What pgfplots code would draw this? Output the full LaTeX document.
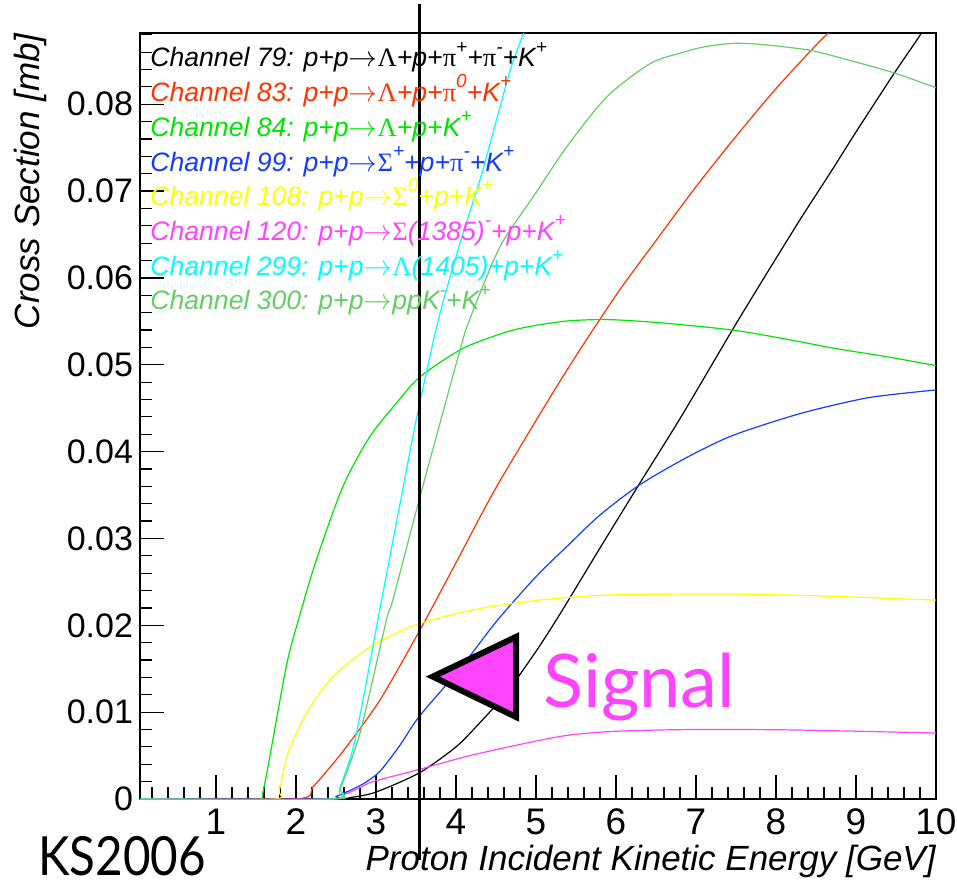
\documentclass[border=0pt]{standalone}
\usepackage{pgfplots}
\pgfplotsset{compat=1.18}
\usepackage{fontspec}
\setmainfont{Liberation Sans}
\newfontfamily\grk{Liberation Serif}
\newfontfamily\gill{Lato}
\newcommand\gk[1]{{\grk\upshape #1}}
\newcommand\sps[1]{\raisebox{0.52em}{\fontsize{9.5}{10}\selectfont #1}}
\definecolor{c79}{RGB}{0,0,0}
\definecolor{c83}{RGB}{255,51,0}
\definecolor{c84}{RGB}{0,230,0}
\definecolor{c99}{RGB}{20,60,255}
\definecolor{c108}{RGB}{255,255,0}
\definecolor{c120}{RGB}{255,68,255}
\definecolor{c299}{RGB}{0,255,255}
\definecolor{c300}{RGB}{102,204,102}
\begin{document}
\begin{tikzpicture}
\useasboundingbox (-70pt,-42.5pt) rectangle (408.5pt,399.5pt);
\begin{axis}[
  at={(0pt,0pt)}, anchor=south west,
  scale only axis, width=398pt, height=383pt,
  xmin=0.05, xmax=10, ymin=0, ymax=0.0882,
  axis line style={line width=1pt},
  xtick={1,2,...,10},
  minor xtick={0.2,0.4,...,9.9},
  ytick={0,0.01,0.02,0.03,0.04,0.05,0.06,0.07,0.08},
  minor ytick={0.002,0.004,...,0.0881},
  scaled y ticks=false,
  yticklabel style={/pgf/number format/fixed,/pgf/number format/precision=2},
  /pgf/number format/assume math mode=true,
  tick align=inside, xtick pos=bottom, ytick pos=left,
  major tick length=12pt, minor tick length=6pt,
  tick style={black, line width=0.6pt},
  yticklabel style={font=\fontsize{17}{20}\selectfont},
  xticklabel style={font=\fontsize{18.5}{22}\selectfont, yshift=-1.5pt},
  every axis plot/.append style={line width=0.6pt, no marks, smooth, tension=0.45},
]
\addplot[c79] coordinates {(0.05,0)(2.38,0)(2.7,0.0002)(3.0,0.0008)(3.54,0.0030)(4.0,0.0060)(4.3,0.0088)(4.63,0.0122)(5.0,0.0170)(5.3,0.0213)(5.8,0.0289)(6.3,0.0364)(6.8,0.0438)(7.454,0.0540)(7.85,0.0600)(8.3,0.0667)(8.685,0.0722)(9.0,0.0768)(9.48,0.0836)(9.79,0.0878)(10,0.0910)};
\addplot[c83] coordinates {(0.05,0)(2.0,0)(2.21,0.0014)(2.42,0.0036)(2.63,0.0060)(3.05,0.0114)(3.54,0.0193)(4.0,0.0272)(4.51,0.0360)(5.34,0.0487)(6.0,0.0580)(6.5,0.0643)(7.0,0.0705)(7.5,0.0763)(8.0,0.0818)(8.5,0.0868)(8.7,0.0886)(9.0,0.0910)(10,0.1000)};
\addplot[c84] coordinates {(0.05,0)(1.50,0)(1.59,0.0009)(1.877,0.0152)(2.03,0.0206)(2.253,0.0275)(2.587,0.0360)(2.921,0.0417)(3.256,0.0456)(3.548,0.0486)(4.09,0.0519)(4.717,0.0540)(5.343,0.0550)(5.9,0.0552)(6.6,0.0548)(7.454,0.0540)(8.1,0.0530)(8.727,0.0519)(9.4,0.0509)(10,0.0499)};
\addplot[c99] coordinates {(0.05,0)(2.38,0)(2.5,0.0003)(2.63,0.0008)(2.85,0.0018)(3.05,0.0032)(3.3,0.0062)(3.54,0.0095)(4.05,0.0150)(4.51,0.0205)(5.0,0.0256)(5.4,0.0292)(5.8,0.0327)(6.3,0.0362)(6.9,0.0394)(7.47,0.0419)(8.31,0.0444)(9.15,0.0462)(10,0.0471)};
\addplot[c108] coordinates {(0.05,0)(1.71,0)(1.79,0.0010)(1.90,0.0053)(2.13,0.0099)(2.42,0.0137)(2.7,0.0160)(2.96,0.0177)(3.25,0.0191)(3.54,0.0202)(4.22,0.0218)(5.05,0.0229)(5.93,0.0235)(7.39,0.0236)(8.5,0.0234)(10,0.0229)};
\addplot[c120] coordinates {(0.05,0)(2.40,0)(2.6,0.0005)(2.8,0.0013)(2.96,0.0020)(3.54,0.0034)(4.22,0.0051)(5.30,0.0072)(6.0,0.0078)(6.97,0.0080)(8.23,0.00795)(10,0.0076)};
\addplot[c299] coordinates {(0.05,0)(2.44,0)(2.55,0.0014)(2.71,0.0057)(2.85,0.0120)(2.96,0.0175)(3.07,0.0229)(3.3,0.0340)(3.51,0.0440)(3.78,0.0552)(4.05,0.0640)(4.30,0.0713)(4.5,0.0780)(4.68,0.0840)(4.80,0.0871)(4.9,0.0895)(5.0,0.0920)};
\addplot[c300] coordinates {(0.05,0)(2.46,0)(2.545,0.0010)(2.80,0.0076)(3.13,0.0206)(3.21,0.0229)(3.55,0.0348)(4.05,0.0517)(4.17,0.0552)(4.55,0.0636)(4.97,0.0694)(5.385,0.0751)(5.89,0.0809)(6.43,0.0847)(6.81,0.0859)(7.1,0.0866)(7.45,0.0870)(7.8,0.0869)(8.43,0.0862)(8.98,0.0849)(9.48,0.0836)(10,0.0819)};
\coordinate (vb) at (axis cs:3.54,-0.00703);
\coordinate (vt) at (axis cs:3.54,0.0915);
\coordinate (tA) at (axis cs:3.71,0.01409);
\coordinate (tB) at (axis cs:4.75,0.01866);
\coordinate (tC) at (axis cs:4.75,0.00945);
\coordinate (sg) at (axis cs:5.089,0.01048);
\end{axis}
\draw[line width=1.4pt] (vb) -- (vt);
\draw[line width=3pt, fill=c120, line join=miter] (tA) -- (tB) -- (tC) -- cycle;
\node[anchor=base west, inner sep=0pt, text=c120, font=\gill\fontsize{37}{40}\selectfont] at (sg) {Signal};
\node[anchor=base west, inner sep=0pt, font=\gill\fontsize{27}{30}\selectfont] at (-51pt,-38pt) {\scalebox{0.88}[1]{KS2006}};
\node[anchor=base east, inner sep=0pt, font=\itshape\fontsize{17.5}{20}\selectfont] at (398pt,-35.5pt) {Proton Incident Kinetic Energy [GeV]};
\node[anchor=base east, inner sep=0pt, rotate=90, font=\itshape\fontsize{17.5}{20}\selectfont] at (-50pt,383pt) {Cross Section [mb]};
\begin{scope}[every node/.style={anchor=base west, inner sep=0pt, font=\itshape\fontsize{13.3}{15}\selectfont}]
\node[text=c79] at (5pt,366pt) {Channel 79: p+p$\rightarrow$\gk{Λ}+p+\gk{π}\sps{+}+\gk{π}\sps{-}+K\sps{+}};
\node[text=c83] at (5pt,348.65pt) {Channel 83: p+p$\rightarrow$\gk{Λ}+p+\gk{π}\sps{0}+K\sps{+}};
\node[text=c84] at (5pt,331.3pt) {Channel 84: p+p$\rightarrow$\gk{Λ}+p+K\sps{+}};
\node[text=c99] at (5pt,313.95pt) {Channel 99: p+p$\rightarrow$\gk{Σ}\sps{+}+p+\gk{π}\sps{-}+K\sps{+}};
\node[text=c108] at (5pt,296.6pt) {Channel 108: p+p$\rightarrow$\gk{Σ}\sps{0}+p+K\sps{+}};
\node[text=c120] at (5pt,279.25pt) {Channel 120: p+p$\rightarrow$\gk{Σ}(1385)\sps{-}+p+K\sps{+}};
\node[text=c299] at (5pt,261.9pt) {Channel 299: p+p$\rightarrow$\gk{Λ}(1405)+p+K\sps{+}};
\node[text=c300] at (5pt,244.55pt) {Channel 300: p+p$\rightarrow$ppK\sps{-}+K\sps{+}};
\end{scope}
\end{tikzpicture}
\end{document}
